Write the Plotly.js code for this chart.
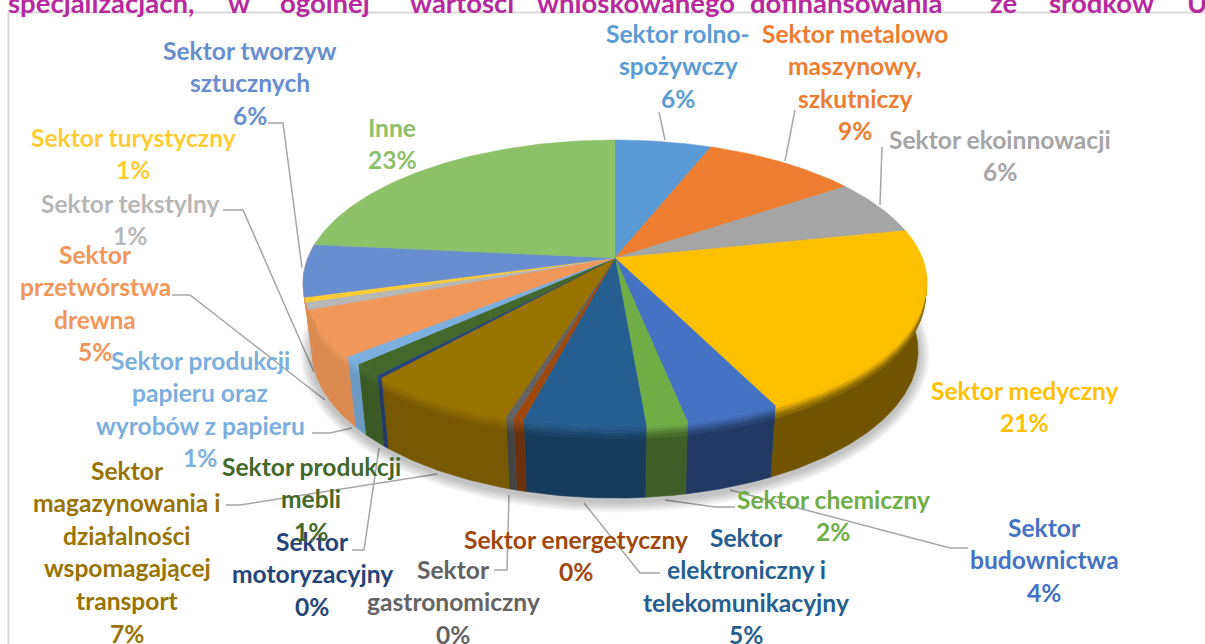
<!DOCTYPE html>
<html><head><meta charset="utf-8">
<script src="https://cdn.plot.ly/plotly-3.0.1.min.js"></script>
<style>html,body{margin:0;padding:0;background:#fff;overflow:hidden}#c{width:1205px;height:644px}</style>
</head><body><div id="c"></div><script>
// ---- data ----
const categories = ["Sektor rolno-spożywczy","Sektor metalowo maszynowy, szkutniczy","Sektor ekoinnowacji","Sektor medyczny","Sektor budownictwa","Sektor chemiczny","Sektor elektroniczny i telekomunikacyjny","Sektor energetyczny","Sektor gastronomiczny","Sektor magazynowania i działalności wspomagającej transport","Sektor motoryzacyjny","Sektor produkcji mebli","Sektor produkcji papieru oraz wyrobów z papieru","Sektor przetwórstwa drewna","Sektor tekstylny","Sektor turystyczny","Sektor tworzyw sztucznych","Inne"];
const values = [5.9,9.49,6.3,21.0,4.1,1.8,5.3,0.45,0.35,6.7,0.3,1.4,0.9,5.2,0.8,0.55,5.9,23.4];
const colors = ["#5b9bd5","#ed7d31","#a5a5a5","#ffc000","#4472c4","#70ad47","#255e91","#9e480e","#636363","#997300","#264478","#43682b","#7cafdd","#f1975a","#b7b7b7","#ffcd33","#698ed0","#8cc168"];
const labelLines = [["Sektor rolno-","spożywczy"],["Sektor metalowo","maszynowy,","szkutniczy"],["Sektor ekoinnowacji"],["Sektor medyczny"],["Sektor","budownictwa"],["Sektor chemiczny"],["Sektor","elektroniczny i","telekomunikacyjny"],["Sektor energetyczny"],["Sektor","gastronomiczny"],["Sektor","magazynowania i","działalności","wspomagającej","transport"],["Sektor","motoryzacyjny"],["Sektor produkcji","mebli"],["Sektor produkcji","papieru oraz","wyrobów z papieru"],["Sektor","przetwórstwa","drewna"],["Sektor tekstylny"],["Sektor turystyczny"],["Sektor tworzyw","sztucznych"],["Inne"]];
const titleWords = ["specjalizacjach,","w","ogólnej","wartości","wnioskowanego","dofinansowania","ze","środków","U"];

// ---- layout of the picture (not data) ----
const labelCentre = [678,855,1000,1024,1044,833,746,576,453,127,312,311,200,95,130,133,250,392];
const labelTop = [33,33,139,390,527,499,537,539,569,470,541,466,360,254,203,137,50,127];
const lineStep = 32.6;
const titleX = [8,228,280,410,537,750,990,1049,1187];
const geo = {cx:615,cy:283,rx:312,ry:143,a:-0.175,cyB:351,rxB:303,ryB:147};
const leaders = [
 "M659,112 L665,140","M795,110 L785,161","M882,147 L880,205",
 "M268,123 L283,123 L302,268","M223,210 L243,210 L314,372","M172,295 L190,295 L325,400",
 "M312,433 L330,433 L352,428","M226,505 L240,505 L437,474","M352,550 L364,550 L379,448",
 "M494,570 L507,570 L509,495","M584,503 L640,573 L660,573","M665,500 L715,507 L735,507",
 "M730,490 L950,548 L968,548"];

function hex(c){return [1,3,5].map(i=>parseInt(c.substr(i,2),16));}
function mix(c,f,to){const t=to||[0,0,0];return 'rgb('+hex(c).map((v,i)=>Math.round(t[i]+(v-t[i])*f)).join(',')+')';}
const s=Math.sqrt(1-geo.a*geo.a);
function proj(th){const u=Math.sin(th),v=-Math.cos(th),d=1+geo.a*v;return [u*s/d,(v+geo.a)/d];}
function topP(th){const p=proj(th);return [geo.cx+geo.rx*p[0],geo.cy+geo.ry*p[1]];}
function botP(th){const p=proj(th);return [geo.cx+geo.rxB*p[0],geo.cyB+geo.ryB*p[1]];}
function shade(x){const xs=[320,500,700,930],fs=[0.92,0.70,0.52,0.42];
  if(x<=xs[0])return fs[0];for(let i=1;i<4;i++)if(x<=xs[i])return fs[i-1]+(fs[i]-fs[i-1])*(x-xs[i-1])/(xs[i]-xs[i-1]);return fs[3];}

const total=values.reduce((a,b)=>a+b,0);
let acc=0;
const slices=values.map((v,i)=>{const t0=acc/total*2*Math.PI;acc+=v;const t1=acc/total*2*Math.PI;
  const n=Math.max(2,Math.ceil((t1-t0)/(Math.PI/180)));const ths=[];for(let k=0;k<=n;k++)ths.push(t0+(t1-t0)*k/n);
  return {i,t0,t1,ths};});

const traces=[];
function poly(xs,ys,fill,name,hover){traces.push({type:'scatter',mode:'lines',x:xs,y:ys,fill:'toself',fillcolor:fill,
  line:{color:fill,width:0.6},name:name||'',showlegend:false,hoverinfo:hover?'text':'skip',text:hover||undefined,hoveron:'fills'});}

// soft shadow beneath the pie
for(let k=7;k>=1;k--){const xs=[],ys=[];for(let d=0;d<=360;d+=3){const r=d*Math.PI/180;
  xs.push(geo.cx+(geo.rxB+k*1.6)*Math.cos(r));ys.push(geo.cyB+3+(geo.ryB+k*1.6)*Math.sin(r));}
  poly(xs,ys,'rgba(0,0,0,0.035)');}

// side walls
const bands=[[0,0.05,0.95],[0.05,0.09,0.72],[0.09,0.13,0.45],[0.13,0.18,0.2]];
function wall(sl,f0,f1,col){const xs=[],ys=[];
  sl.ths.forEach(t=>{const a=topP(t),b=botP(t);xs.push(a[0]+(b[0]-a[0])*f0);ys.push(a[1]+(b[1]-a[1])*f0);});
  sl.ths.slice().reverse().forEach(t=>{const a=topP(t),b=botP(t);xs.push(a[0]+(b[0]-a[0])*f1);ys.push(a[1]+(b[1]-a[1])*f1);});
  xs.push(xs[0]);ys.push(ys[0]);poly(xs,ys,col);}
let lastFront=0;
slices.forEach(sl=>{
  const rim=sl.ths.map(topP);const maxY=Math.max(...rim.map(p=>p[1]));if(maxY<geo.cy-10)return;
  // the narrow slivers at the left silhouette continue the wall next to them
  let ci=sl.i; if(maxY<312) ci=lastFront; else lastFront=sl.i;
  const mx=rim.reduce((a,p)=>a+p[0],0)/rim.length;const f=shade(mx);
  wall(sl,0.16,1,mix(colors[ci],f));
  bands.forEach(b=>{wall(sl,b[0],b[1],mix(colors[ci],f+(1-f)*b[2]));});
});
// top faces
const apex=[geo.cx,geo.cy+geo.ry*geo.a];
slices.forEach(sl=>{const xs=[apex[0]],ys=[apex[1]];sl.ths.forEach(t=>{const p=topP(t);xs.push(p[0]);ys.push(p[1]);});xs.push(apex[0]);ys.push(apex[1]);
  poly(xs,ys,colors[sl.i],categories[sl.i],categories[sl.i]+': '+Math.round(values[sl.i])+'%');});

// annotations
const annotations=[];
const fam='Lato, Carlito, sans-serif';
labelLines.forEach((ls,i)=>{const lines=ls.concat([Math.round(values[i])+'%']);
  lines.forEach((t,k)=>annotations.push({xref:'x',yref:'y',x:labelCentre[i],y:labelTop[i]+k*lineStep,text:'<b>'+t+'</b>',showarrow:false,
    xanchor:'center',yanchor:'middle',font:{family:fam,size:24.6,color:colors[i]}}));});
titleWords.forEach((w,i)=>annotations.push({xref:'paper',yref:'paper',x:titleX[i]/1205,y:1,yshift:-2,text:'<b>'+w+'</b>',showarrow:false,xanchor:'left',yanchor:'middle',
  xshift:-2,font:{family:fam,size:27.5,color:'#b72a9e'}}));

const shapes=leaders.map(p=>({type:'path',xref:'x',yref:'y',path:p,line:{color:'#a6a6a6',width:1.5},layer:'below'}));
shapes.push({type:'path',xref:'x',yref:'y',path:'M1205,12.5 L8.5,12.5 L8.5,644',line:{color:'#d9d9d9',width:2},layer:'below'});

Plotly.newPlot('c',traces,{
  width:1205,height:644,margin:{l:0,r:0,t:0,b:0},paper_bgcolor:'#fff',plot_bgcolor:'#fff',showlegend:false,
  xaxis:{range:[0,1205],visible:false,fixedrange:true},
  yaxis:{range:[644,0],visible:false,fixedrange:true},
  annotations,shapes
},{displayModeBar:false});
</script></body></html>
